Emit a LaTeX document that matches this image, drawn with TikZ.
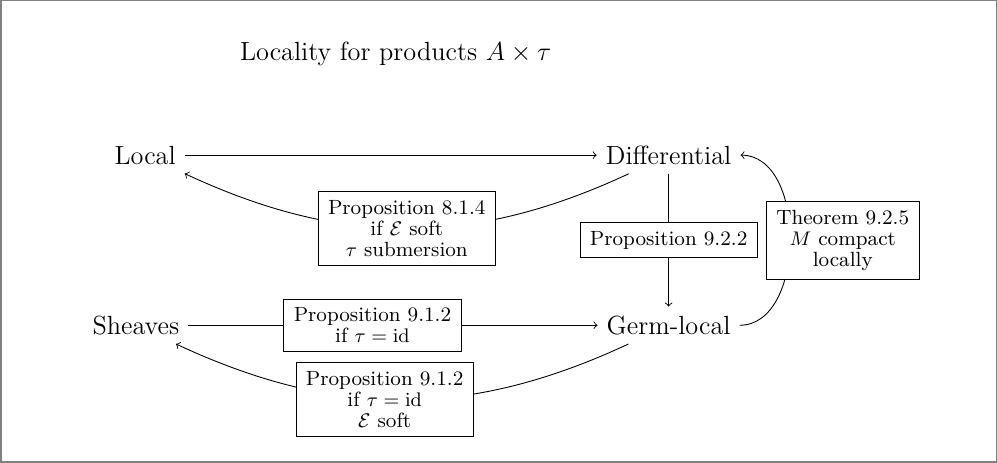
\documentclass[tikz,border=0pt]{standalone}
\usetikzlibrary{positioning}
\usepackage{amsmath}
\usepackage{amssymb}

\begin{document}
\begin{tikzpicture}[scale=1.0,
    obj/.style={font=\large, inner sep=4pt},
    why/.style={draw, fill=white, align=center, inner xsep=4.5pt, inner ysep=4pt,
      font={\fontsize{9.4}{9.6}\selectfont}}]
        \useasboundingbox (0,0) rectangle (16,7.43);
        \draw[gray, line width=0.7pt] (0.012,0.012) rectangle (15.988,7.418);
        \node[font=\large] (title) at (6.35,6.56) {Locality for products $A\times\tau$};
        \node[obj] (local) at (2.33,4.94) {Local};
        \node[obj] (diff) at (10.73,4.94) {Differential};
        \node[obj] (sheaves) at (2.18,2.21) {Sheaves};
        \node[obj] (germ) at (10.73,2.21) {Germ-local};
        \draw[->] (local) -- (diff);
        \draw[->] (diff) to[bend left=25] node[why] (p814) {Proposition 8.1.4\\ if $\mathcal{E}$ soft\\ $\tau$ submersion} (local);
        \draw[->] (diff) -- node[why] (p922) {Proposition 9.2.2} (germ);
        \draw[->] (sheaves) -- node[why, pos=0.45] (p912) {Proposition 9.1.2\\ if $\tau=\mathrm{id}$} (germ);
        \draw[->] (germ) to[bend left=25] node[why, pos=0.54] (p912s) {Proposition 9.1.2\\ if $\tau=\mathrm{id}$\\ $\mathcal{E}$ soft} (sheaves);
        \draw[->] (germ) to[out=0,in=0] node[why, anchor=west, xshift=-11pt] (t925) {Theorem 9.2.5\\ $M$ compact\\ locally} (diff);
    \end{tikzpicture}
\end{document}
